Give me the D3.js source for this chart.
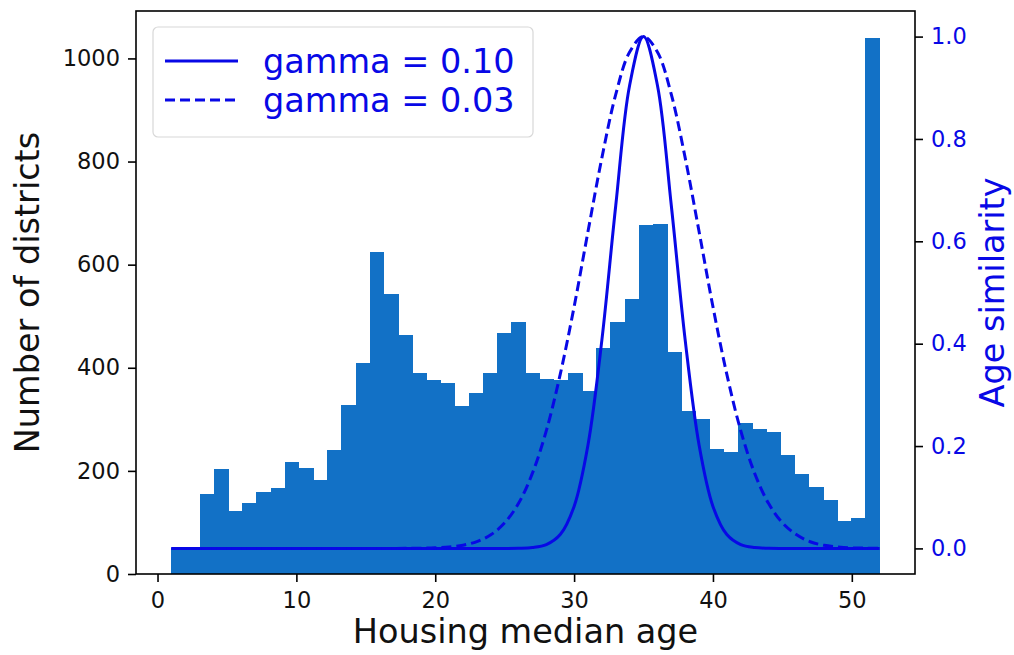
<!DOCTYPE html>
<html>
<head>
<meta charset="utf-8">
<script src="https://cdn.jsdelivr.net/npm/d3@7"></script>
<style>
  html, body { margin: 0; padding: 0; background: #fff; }
  svg { display: block; font-family: "DejaVu Sans", sans-serif; }
</style>
</head>
<body>
<svg id="chart" width="1014" height="655"></svg>
<script>
// ---- data ----
const ageMin = 1;
const ageMax = 52;
const binCount = 50;
const binCounts = [50, 50, 155, 204, 122, 137, 160, 166, 218, 206,
                   182, 241, 328, 409, 624, 544, 463, 389, 377, 370,
                   326, 351, 389, 467, 488, 389, 379, 376, 389, 354,
                   439, 488, 533, 676, 679, 430, 316, 300, 242, 236,
                   292, 281, 276, 231, 194, 168, 144, 103, 109, 1040];
const ages = [1,2,3,4,5,6,7,8,9,10,11,12,13,14,15,16,17,18,19,20,21,22,23,24,25,26,
              27,28,29,30,31,32,33,34,35,36,37,38,39,40,41,42,43,44,45,46,47,48,49,50,51,52];
const simGamma010 = [0,0,0,0,0,0,0,0,0,0,0,0,0,0,0,0,0,0,0,0,0,0,0,0,0,0.0003,
                     0.0017,0.0074,0.027,0.082,0.202,0.407,0.670,0.905,1.000,0.905,0.670,0.407,0.202,0.082,0.027,0.0074,
                     0.0017,0.0003,0,0,0,0,0,0,0,0];
const simGamma003 = [0,0,0,0,0,0,0,0,0,0,0,0,0,0,0,0,0,0.0002,0.0005,0.0012,0.0028,0.0063,0.0133,0.0265,0.050,0.088,
                     0.147,0.230,0.340,0.472,0.619,0.763,0.887,0.970,1.000,0.970,0.887,0.763,0.619,0.472,0.340,0.230,
                     0.147,0.088,0.050,0.027,0.013,0.006,0.003,0.001,0.0005,0.0002];
const seriesLabels = ["gamma = 0.10", "gamma = 0.03"];
const xTicks = [0, 10, 20, 30, 40, 50];
const yLeftTicks = [0, 200, 400, 600, 800, 1000];
const yRightTicks = [0.0, 0.2, 0.4, 0.6, 0.8, 1.0];

// ---- layout ----
const svg = d3.select("#chart");
const L = 136, R = 915, T = 11, B = 574;
const barColor = "#1271c6";
const lineColor = "#0808e6";

const binW = (ageMax - ageMin) / binCount;
const bins = binCounts.map((c, i) => ({x0: ageMin + i * binW, x1: ageMin + (i + 1) * binW, c}));

const xPad = (ageMax - ageMin) * 0.05;
const x = d3.scaleLinear().domain([ageMin - xPad, ageMax + xPad]).range([L, R]);
const yL = d3.scaleLinear().domain([0, d3.max(binCounts) * 1.05]).range([B, T]);
const yR = d3.scaleLinear().domain([-0.05, 1.05]).range([B, T]);

// bars
svg.append("g").attr("shape-rendering", "crispEdges")
  .selectAll("rect").data(bins).join("rect")
  .attr("x", d => x(d.x0))
  .attr("width", d => x(d.x1) - x(d.x0) + 0.6)
  .attr("y", d => yL(d.c))
  .attr("height", d => yL(0) - yL(d.c))
  .attr("fill", barColor);

// similarity lines
const line = ys => d3.line()
  .x((d, i) => x(ages[i]))
  .y(d => yR(d))
  .curve(d3.curveCatmullRom.alpha(0.5))(ys);

svg.append("path").attr("d", line(simGamma010))
  .attr("fill", "none").attr("stroke", lineColor).attr("stroke-width", 3);
svg.append("path").attr("d", line(simGamma003))
  .attr("fill", "none").attr("stroke", lineColor).attr("stroke-width", 3)
  .attr("stroke-dasharray", "10,5");

// axes
const fontTick = "22.5px";
const xAxis = svg.append("g").attr("transform", `translate(0,${B})`)
  .call(d3.axisBottom(x).tickValues(xTicks).tickFormat(d3.format("d")).tickSize(8).tickPadding(10).tickSizeOuter(0));
const yAxisL = svg.append("g").attr("transform", `translate(${L},0)`)
  .call(d3.axisLeft(yL).tickValues(yLeftTicks).tickFormat(d3.format("d")).tickSize(8).tickPadding(8).tickSizeOuter(0));
const yAxisR = svg.append("g").attr("transform", `translate(${R},0)`)
  .call(d3.axisRight(yR).tickValues(yRightTicks).tickFormat(d3.format(".1f")).tickSize(8).tickPadding(8).tickSizeOuter(0));

[xAxis, yAxisL, yAxisR].forEach(g => {
  g.select(".domain").remove();
  g.selectAll("line").attr("stroke", "#000").attr("stroke-width", 1.6);
  g.selectAll("text").attr("font-size", fontTick).attr("font-family", "DejaVu Sans").attr("fill", "#111");
});
yAxisR.selectAll("text").attr("fill", lineColor);

// frame
svg.append("rect").attr("x", L).attr("y", T).attr("width", R - L).attr("height", B - T)
  .attr("fill", "none").attr("stroke", "#000").attr("stroke-width", 1.6);

// axis labels
const fontLabel = "33.5px";
svg.append("text").attr("x", (L + R) / 2).attr("y", 643)
  .attr("text-anchor", "middle").attr("font-size", fontLabel).attr("fill", "#111")
  .text("Housing median age");
svg.append("text").attr("transform", `translate(39,${(T + B) / 2}) rotate(-90)`)
  .attr("text-anchor", "middle").attr("font-size", fontLabel).attr("fill", "#111")
  .text("Number of districts");
svg.append("text").attr("transform", `translate(1004,${(T + B) / 2}) rotate(-90)`)
  .attr("text-anchor", "middle").attr("font-size", fontLabel).attr("fill", lineColor)
  .text("Age similarity");

// legend
const lg = svg.append("g");
lg.append("rect").attr("x", 153).attr("y", 27).attr("width", 380).attr("height", 110)
  .attr("rx", 5).attr("fill", "#fff").attr("fill-opacity", 0.85)
  .attr("stroke", "#d8d8d8").attr("stroke-width", 1.2);
const legendItems = [
  {label: seriesLabels[0], dash: null, y: 61},
  {label: seriesLabels[1], dash: "10,5", y: 100}
];
legendItems.forEach(it => {
  lg.append("line").attr("x1", 165).attr("x2", 238).attr("y1", it.y).attr("y2", it.y)
    .attr("stroke", lineColor).attr("stroke-width", 3)
    .attr("stroke-dasharray", it.dash);
  lg.append("text").attr("x", 263).attr("y", it.y).attr("dy", "0.36em")
    .attr("font-size", fontLabel).attr("fill", lineColor).text(it.label);
});
</script>
</body>
</html>
